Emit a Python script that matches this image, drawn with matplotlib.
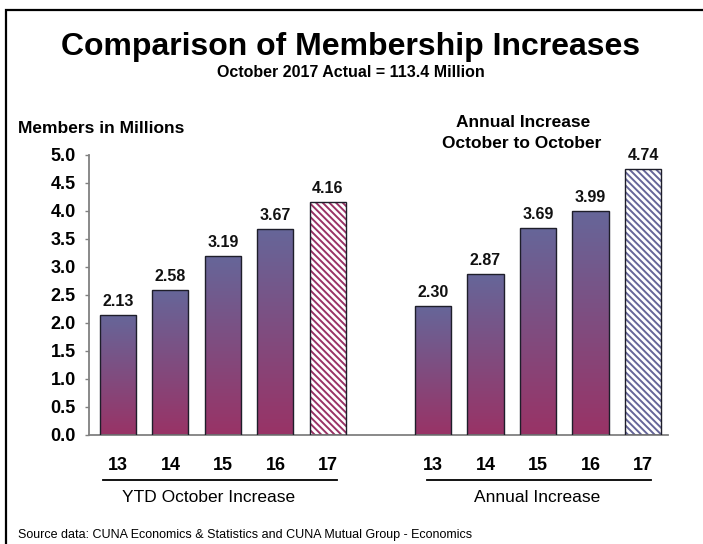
import numpy as np
import matplotlib
matplotlib.use("Agg")
import matplotlib.pyplot as plt
from matplotlib.colors import LinearSegmentedColormap
from matplotlib.patches import Rectangle

plt.rcParams["font.family"] = ["Liberation Sans", "DejaVu Sans"]
plt.rcParams["hatch.linewidth"] = 1.4

# ---- data ----
years = ["13", "14", "15", "16", "17"]
ytd_october = [2.13, 2.58, 3.19, 3.67, 4.16]
annual_oct_to_oct = [2.30, 2.87, 3.69, 3.99, 4.74]
group_labels = ["YTD October Increase", "Annual Increase"]
y_ticks = [0.0, 0.5, 1.0, 1.5, 2.0, 2.5, 3.0, 3.5, 4.0, 4.5, 5.0]

W, H = 703, 544
DPI = 100
fig = plt.figure(figsize=(W / DPI, H / DPI), dpi=DPI)

def fx(px):
    return px / W

def fy(py):
    return 1 - py / H

# outer frame
fig.patches.append(Rectangle((fx(6), fy(560)), fx(720) - fx(6), fy(10) - fy(560),
                             transform=fig.transFigure, fill=False,
                             edgecolor="black", linewidth=1.6, zorder=0))

ax = fig.add_axes([fx(89), fy(434.7), fx(668) - fx(89), fy(154.7) - fy(434.7)])

top_col = "#666699"
bot_col = "#993366"
grad_cmap = LinearSegmentedColormap.from_list("bar_grad", [bot_col, top_col])
grad = np.linspace(0, 1, 256).reshape(-1, 1)

bar_w = 0.686
x_left = np.arange(5)
x_right = np.arange(5) + 6

for xs, vals, hatch_col in [(x_left, ytd_october, bot_col),
                            (x_right, annual_oct_to_oct, top_col)]:
    bars = ax.bar(xs, vals, width=bar_w, color="none", edgecolor="#1e1e2a",
                  linewidth=1.0, zorder=3)
    for i, b in enumerate(bars):
        x0, w, h = b.get_x(), b.get_width(), b.get_height()
        if i < len(bars) - 1:
            ax.imshow(grad, extent=[x0, x0 + w, 0, h], origin="lower",
                      aspect="auto", cmap=grad_cmap, zorder=2,
                      interpolation="bilinear")
        else:
            ax.add_patch(Rectangle((x0, 0), w, h, facecolor="white",
                                   edgecolor=hatch_col, hatch="\\" * 5,
                                   linewidth=0, zorder=2))
        ax.annotate(f"{h:.2f}", (x0 + w / 2, h), xytext=(0, 6.5),
                    textcoords="offset points", ha="center", va="baseline",
                    fontsize=11.5, fontweight="bold", color="#111111")

ax.set_xlim(-0.552, 10.476)
ax.set_ylim(0, 5.0)

for s in ["top", "right"]:
    ax.spines[s].set_visible(False)
for s in ["left", "bottom"]:
    ax.spines[s].set_color("#808080")
    ax.spines[s].set_linewidth(1.3)

ax.set_yticks(y_ticks)
ax.set_yticklabels([f"{t:.1f}" for t in y_ticks], fontsize=13, fontweight="bold")
ax.tick_params(axis="y", direction="out", length=3, width=1, color="#808080", pad=6.5)
ax.set_xticks([])

# category labels and group captions
xt = ax.get_xaxis_transform()
def ay(py):
    return (434.7 - py) / 280.0

for xs in (x_left, x_right):
    for xi, lab in zip(xs, years):
        ax.text(xi, ay(470), lab, transform=xt, ha="center", va="baseline",
                fontsize=13, fontweight="bold", clip_on=False)

for (a, b), cx, lab in [((-0.291, 4.166), 1.72, group_labels[0]),
                        ((5.88, 10.145), 7.99, group_labels[1])]:
    ax.plot([a, b], [ay(480), ay(480)], transform=xt, color="black",
            linewidth=1.3, clip_on=False)
    ax.text(cx, ay(502), lab, transform=xt, ha="center", va="baseline",
            fontsize=12.5, clip_on=False)

# titles and notes
fig.text(fx(351), fy(55), "Comparison of Membership Increases", ha="center",
         va="baseline", fontsize=23, fontweight="bold")
fig.text(fx(351), fy(76.7), "October 2017 Actual = 113.4 Million", ha="center",
         va="baseline", fontsize=11.5, fontweight="bold")
fig.text(fx(18), fy(133.3), "Members in Millions", ha="left", va="baseline",
         fontsize=12.5, fontweight="bold")
fig.text(fx(523), fy(126.7), "Annual Increase", ha="center", va="baseline",
         fontsize=12.5, fontweight="bold")
fig.text(fx(522), fy(148.3), "October to October", ha="center", va="baseline",
         fontsize=12.5, fontweight="bold")
fig.text(fx(18), fy(538), "Source data: CUNA Economics & Statistics and CUNA Mutual Group - Economics",
         ha="left", va="baseline", fontsize=9)

fig.savefig("out.png", dpi=DPI)
